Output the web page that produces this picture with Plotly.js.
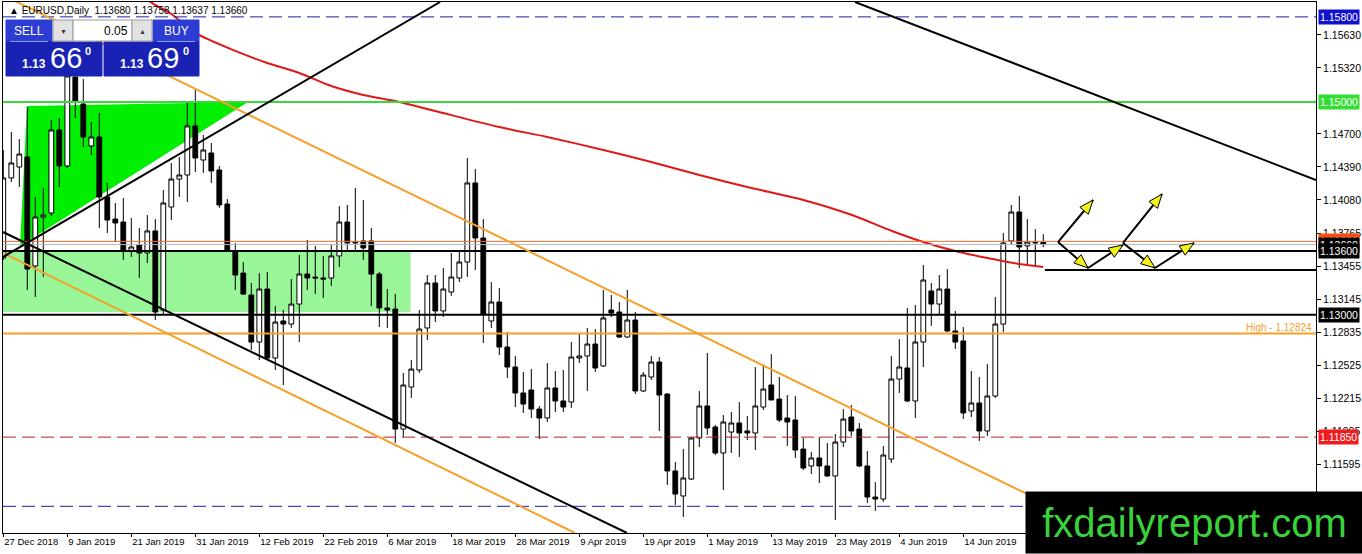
<!DOCTYPE html>
<html><head><meta charset="utf-8">
<script src="https://cdn.plot.ly/plotly-3.0.1.min.js"></script>
<style>html,body{margin:0;padding:0;background:#fff;overflow:hidden}#chart{width:1362px;height:554px}</style>
</head><body><div id="chart"></div>
<script>
// ---------------- DATA ----------------
const dates = [
"2018-12-27","2018-12-28","2018-12-31",
"2019-01-02","2019-01-03","2019-01-04","2019-01-07","2019-01-08","2019-01-09","2019-01-10","2019-01-11","2019-01-14","2019-01-15","2019-01-16","2019-01-17","2019-01-18","2019-01-21","2019-01-22","2019-01-23","2019-01-24","2019-01-25","2019-01-28","2019-01-29","2019-01-30","2019-01-31",
"2019-02-01","2019-02-04","2019-02-05","2019-02-06","2019-02-07","2019-02-08","2019-02-11","2019-02-12","2019-02-13","2019-02-14","2019-02-15","2019-02-18","2019-02-19","2019-02-20","2019-02-21","2019-02-22","2019-02-25","2019-02-26","2019-02-27","2019-02-28",
"2019-03-01","2019-03-04","2019-03-05","2019-03-06","2019-03-07","2019-03-08","2019-03-11","2019-03-12","2019-03-13","2019-03-14","2019-03-15","2019-03-18","2019-03-19","2019-03-20","2019-03-21","2019-03-22","2019-03-25","2019-03-26","2019-03-27","2019-03-28","2019-03-29",
"2019-04-01","2019-04-02","2019-04-03","2019-04-04","2019-04-05","2019-04-08","2019-04-09","2019-04-10","2019-04-11","2019-04-12","2019-04-15","2019-04-16","2019-04-17","2019-04-18","2019-04-19","2019-04-22","2019-04-23","2019-04-24","2019-04-25","2019-04-26","2019-04-29","2019-04-30",
"2019-05-01","2019-05-02","2019-05-03","2019-05-06","2019-05-07","2019-05-08","2019-05-09","2019-05-10","2019-05-13","2019-05-14","2019-05-15","2019-05-16","2019-05-17","2019-05-20","2019-05-21","2019-05-22","2019-05-23","2019-05-24","2019-05-27","2019-05-28","2019-05-29","2019-05-30","2019-05-31",
"2019-06-03","2019-06-04","2019-06-05","2019-06-06","2019-06-07","2019-06-10","2019-06-11","2019-06-12","2019-06-13","2019-06-14","2019-06-17","2019-06-18","2019-06-19","2019-06-20","2019-06-21","2019-06-24","2019-06-25","2019-06-26","2019-06-27","2019-06-28"
];
const openP = [
1.13534,1.14286,1.14389,1.14483,1.13459,1.13919,1.13957,1.14737,1.14399,1.15235,
1.14981,1.14587,1.14671,1.14107,1.13900,1.13872,1.13600,1.13656,1.13581,1.13788,
1.13045,1.14013,1.14276,1.14314,1.14775,1.14455,1.14521,1.14361,1.14041,1.13590,
1.13392,1.13186,1.12744,1.13242,1.12594,1.12942,1.12913,1.13101,1.13383,1.13355,
1.13346,1.13346,1.13553,1.13872,1.13675,1.13694,1.13694,1.13383,1.13064,1.13054,
1.11926,1.12321,1.12481,1.12876,1.13299,1.13036,1.13214,1.13346,1.13496,1.14239,
1.13722,1.12942,1.13120,1.12697,1.12509,1.12265,1.12293,1.12114,1.12030,1.12312,
1.12190,1.12180,1.12594,1.12613,1.12725,1.12519,1.13045,1.13026,1.12791,1.12951,
1.12284,1.12415,1.12556,1.12255,1.11532,1.11297,1.11456,1.11842,1.12143,1.11945,
1.11701,1.11898,1.11983,1.11908,1.11889,1.12133,1.12340,1.12208,1.12030,1.12011,
1.11738,1.11579,1.11654,1.11579,1.11485,1.11804,1.12039,1.11926,1.11579,1.11287,
1.11268,1.11644,1.12396,1.12500,1.12190,1.12744,1.13224,1.13101,1.13242,1.12848,
1.12754,1.12096,1.12171,1.11908,1.12237,1.12913,1.13694,1.13966,1.13647,1.13675,
1.13680];
const highP = [
1.14549,1.14718,1.14652,1.14953,1.14107,1.14192,1.14831,1.14850,1.15376,1.15339,
1.15216,1.14812,1.14897,1.14239,1.14051,1.14098,1.13910,1.13816,1.13938,1.13900,
1.14173,1.14427,1.14483,1.14991,1.15113,1.14690,1.14615,1.14399,1.14088,1.13675,
1.13496,1.13299,1.13392,1.13402,1.13083,1.13045,1.13336,1.13562,1.13703,1.13647,
1.13553,1.13656,1.14022,1.14032,1.14192,1.14079,1.13816,1.13402,1.13242,1.13195,
1.12453,1.12575,1.13045,1.13374,1.13374,1.13440,1.13581,1.13590,1.14474,1.14370,
1.13900,1.13308,1.13252,1.12838,1.12613,1.12462,1.12490,1.12143,1.12547,1.12472,
1.12481,1.12744,1.12829,1.12876,1.12866,1.13233,1.13186,1.13120,1.13233,1.13026,
1.12462,1.12613,1.12603,1.12265,1.11616,1.11738,1.11851,1.12284,1.12641,1.11964,
1.12058,1.12086,1.12180,1.12049,1.12509,1.12528,1.12631,1.12415,1.12246,1.12237,
1.11842,1.11710,1.11851,1.11795,1.11879,1.12114,1.12152,1.11983,1.11720,1.11428,
1.11767,1.12613,1.12772,1.13064,1.13092,1.13468,1.13299,1.13374,1.13430,1.13036,
1.12885,1.12472,1.12415,1.12537,1.13167,1.13769,1.14032,1.14117,1.13900,1.13806,
1.13758];
const lowP = [
1.13515,1.14248,1.14201,1.13233,1.13167,1.13355,1.13929,1.14201,1.14380,1.14850,
1.14577,1.14502,1.13816,1.13769,1.13684,1.13515,1.13543,1.13346,1.13487,1.12951,
1.12998,1.13891,1.14107,1.14060,1.14342,1.14333,1.14239,1.14004,1.13590,1.13233,
1.13186,1.12669,1.12575,1.12575,1.12481,1.12340,1.12876,1.12744,1.13233,1.13195,
1.13158,1.13271,1.13449,1.13609,1.13590,1.13515,1.13083,1.12885,1.12876,1.11795,
1.11851,1.12218,1.12453,1.12763,1.12932,1.12979,1.13177,1.13308,1.13355,1.13421,
1.12735,1.12876,1.12622,1.12406,1.12133,1.12077,1.12030,1.11832,1.11992,1.12086,
1.12086,1.12124,1.12547,1.12284,1.12462,1.12509,1.12979,1.12782,1.12782,1.12255,
1.12274,1.12387,1.11908,1.11400,1.11212,1.11099,1.11447,1.11757,1.11870,1.11682,
1.11353,1.11701,1.11663,1.11823,1.11729,1.12105,1.12199,1.11992,1.11767,1.11654,
1.11541,1.11503,1.11419,1.11475,1.11071,1.11757,1.11861,1.11569,1.11231,1.11156,
1.11240,1.11607,1.12265,1.12180,1.12030,1.12509,1.12895,1.12998,1.12838,1.12678,
1.12020,1.12039,1.11814,1.11861,1.12218,1.12838,1.13656,1.13440,1.13468,1.13468,
1.13637];
const closeP = [
1.14286,1.14427,1.14511,1.13430,1.13919,1.13938,1.14737,1.14399,1.15245,1.15000,
1.14671,1.14671,1.14107,1.13891,1.13863,1.13600,1.13637,1.13581,1.13788,1.13026,
1.14051,1.14276,1.14314,1.14775,1.14474,1.14549,1.14352,1.14032,1.13609,1.13374,
1.13195,1.12744,1.13242,1.12594,1.12932,1.12913,1.13101,1.13383,1.13346,1.13346,
1.13336,1.13553,1.13872,1.13675,1.13684,1.13628,1.13383,1.13064,1.13045,1.11926,
1.12340,1.12490,1.12866,1.13299,1.13036,1.13242,1.13355,1.13496,1.14239,1.13722,
1.13007,1.13120,1.12697,1.12509,1.12265,1.12161,1.12114,1.12030,1.12312,1.12190,
1.12133,1.12603,1.12613,1.12725,1.12500,1.12970,1.13017,1.12791,1.12951,1.12284,
1.12434,1.12556,1.12246,1.11532,1.11315,1.11466,1.11842,1.12143,1.11936,1.11701,
1.11992,1.11983,1.11889,1.11889,1.12143,1.12302,1.12199,1.12011,1.11992,1.11729,
1.11560,1.11654,1.11579,1.11485,1.11804,1.12020,1.11908,1.11579,1.11287,1.11268,
1.11682,1.12396,1.12509,1.12190,1.12744,1.13327,1.13101,1.13242,1.12848,1.12744,
1.12077,1.12171,1.11908,1.12237,1.12913,1.13675,1.13966,1.13637,1.13684,1.13680,
1.13660];

// moving average (bar index, price)
const maBar   = [16,18,21,24,29,33,37,41,45,49,54,62,68,75,81,87,93,100,106,111,115,119,123,127,130];
const maPrice = [1.16100,1.15959,1.15827,1.15649,1.15480,1.15367,1.15273,1.15150,1.15066,1.15009,1.14915,1.14765,1.14671,1.14549,1.14436,1.14314,1.14201,1.14079,1.13940,1.13790,1.13684,1.13599,1.13533,1.13477,1.13449];

// x-axis tick labels
const tickDates  = ["2018-12-27","2019-01-09","2019-01-21","2019-01-31","2019-02-12","2019-02-22","2019-03-06","2019-03-18","2019-03-28","2019-04-09","2019-04-19","2019-05-01","2019-05-13","2019-05-23","2019-06-04","2019-06-14"];
const tickLabels = ["27 Dec 2018","9 Jan 2019","21 Jan 2019","31 Jan 2019","12 Feb 2019","22 Feb 2019","6 Mar 2019","18 Mar 2019","28 Mar 2019","9 Apr 2019","19 Apr 2019","1 May 2019","13 May 2019","23 May 2019","4 Jun 2019","14 Jun 2019"];
// price scale ticks
const priceTicks = [1.15630,1.15320,1.14700,1.14390,1.14080,1.13765,1.13455,1.13145,1.12835,1.12525,1.12215,1.11905,1.11595,1.11285];

// horizontal levels
const levelBlueTop = 1.15800, levelBlueBottom = 1.11200, levelGreen = 1.15000;
const levelBlack1 = 1.13600, levelBlack2 = 1.13000, levelHigh = 1.12824, levelRed = 1.11850;
const askPrice = 1.13690, bidPrice = 1.13660, levelShort = 1.13421, levelShortStart = 130.2;

// trend lines: [bar0, price0, bar1, price1]
const trendBlackUp   = [-0.04, 1.13543, 54.6, 1.15940];
const trendBlackDown = [-0.04, 1.13778, 77.96, 1.10949];
const trendOrangeUp  = [0, 1.16003, 137.96, 1.10949];
const trendOrangeLow = [-0.04, 1.13581, 71.46, 1.10949];
const trendBlackTop  = [106.46, 1.15940, 164.08, 1.14267];

// zones
const triBars = [2.96, 30.59, 2.09], triPrices = [1.14963, 1.15000, 1.13647];
const zoneBars = [-1, 50.9], zonePrices = [1.13600, 1.13026];

// projected path arrows
const arrBar0 = [131.84,131.84,135.59,139.96,139.96,143.96];
const arrP0   = [1.13684,1.13684,1.13440,1.13675,1.13675,1.13440];
const arrBar1 = [136.22,135.59,139.96,144.84,143.96,148.84];
const arrP1   = [1.14079,1.13440,1.13656,1.14135,1.13440,1.13675];

// right-hand price label boxes
const tagPrices = [1.15800,1.15000,askPrice,bidPrice,1.13600,1.13000,1.11850];
const tagTexts  = ["1.15800","1.15000","1.13690","1.13660","1.13600","1.13000","1.11850"];

// ---------------- DRAW ----------------
const XR=[-0.0375,164.0875], YR=[1.10949,1.15940];
const PW=1313, PH=531, ML=3, MT=2;
const kx=PW/(XR[1]-XR[0]), ky=PH/(YR[1]-YR[0]);
const PX=x=>(x-ML)/PW, PY=y=>(MT+PH-y)/PH;
const barIdx = dates.map((d,i)=>i);
const FONT="Liberation Sans, Arial, sans-serif";

const traces=[{
  type:'candlestick', x:barIdx, open:openP, high:highP, low:lowP, close:closeP,
  increasing:{line:{color:'#000',width:1},fillcolor:'#ffffff'},
  decreasing:{line:{color:'#000',width:1},fillcolor:'#000000'},
  whiskerwidth:0, hoverinfo:'none', showlegend:false
},{
  type:'scatter', mode:'lines', x:maBar, y:maPrice, line:{color:'#e01818',width:2,shape:'spline',smoothing:0.8},
  hoverinfo:'none', showlegend:false
}];

const shapes=[];
shapes.push({type:'rect',xref:'x',yref:'y',x0:zoneBars[0],x1:zoneBars[1],y0:zonePrices[0],y1:zonePrices[1],
  fillcolor:'#98f598',line:{width:0},layer:'below'});
shapes.push({type:'path',xref:'x',yref:'y',layer:'below',fillcolor:'#00ee00',line:{width:0},
  path:`M ${triBars[0]} ${triPrices[0]} L ${triBars[1]} ${triPrices[1]} L ${triBars[2]} ${triPrices[2]} Z`});
function hl(p,color,w,dash){shapes.push({type:'line',xref:'paper',yref:'y',x0:0,x1:1,y0:p,y1:p,layer:'above',line:{color:color,width:w,dash:dash||'solid'}});}
hl(askPrice,'#ff6a2a',1); hl(bidPrice,'#b8b8b8',1);
hl(levelBlueTop,'#1c1ca8',1,'13px,6px'); hl(levelBlueBottom,'#1c1ca8',1,'13px,6px');
hl(levelRed,'#b52020',1,'13px,6px');
hl(levelGreen,'#3ad83a',2); hl(levelHigh,'#f5a02a',2);
hl(levelBlack1,'#000',2); hl(levelBlack2,'#000',2);
shapes.push({type:'line',xref:'x',yref:'y',x0:levelShortStart,x1:XR[1],y0:levelShort,y1:levelShort,layer:'above',line:{color:'#000',width:2}});
function tl(t,color){shapes.push({type:'line',xref:'x',yref:'y',x0:t[0],y0:t[1],x1:t[2],y1:t[3],layer:'above',line:{color:color,width:2}});}
tl(trendOrangeUp,'#f5a02a'); tl(trendOrangeLow,'#f5a02a');
tl(trendBlackUp,'#000'); tl(trendBlackDown,'#000'); tl(trendBlackTop,'#000');
function head(x0,y0,x1,y1){
  const dx=(x1-x0)*kx, dy=(y1-y0)*ky, L=Math.hypot(dx,dy), ux=dx/L, uy=dy/L;
  const bx=-14*ux, by=-14*uy, nx=-uy*5.5, ny=ux*5.5;
  const a=[x1+(bx+nx)/kx, y1+(by+ny)/ky], b=[x1+(bx-nx)/kx, y1+(by-ny)/ky];
  return `M ${x1} ${y1} L ${a[0]} ${a[1]} L ${b[0]} ${b[1]} Z`;
}
for(let i=0;i<arrBar0.length;i++){
  shapes.push({type:'line',xref:'x',yref:'y',x0:arrBar0[i],y0:arrP0[i],x1:arrBar1[i],y1:arrP1[i],layer:'above',line:{color:'#000',width:2}});
  shapes.push({type:'path',xref:'x',yref:'y',layer:'above',fillcolor:'#f2f21a',line:{color:'#000',width:1},path:head(arrBar0[i],arrP0[i],arrBar1[i],arrP1[i])});
}
function prect(x0,y0,x1,y1,fill,lc){shapes.push({type:'rect',xref:'paper',yref:'paper',layer:'above',x0:PX(x0),x1:PX(x1),y0:PY(y0),y1:PY(y1),fillcolor:fill,line:{color:lc||fill,width:1}});}
prect(6,20,52,42,'#2d3dd4'); prect(6,42,102,76,'#1a22b4');
prect(153,20,199,42,'#2d3dd4'); prect(104,42,199,76,'#1a22b4');
prect(53,20,73,41,'#e2e2e2','#9a9a9a'); prect(73,20,132,41,'#ffffff','#9a9a9a'); prect(132,20,152,41,'#e2e2e2','#9a9a9a');
shapes.push({type:'line',xref:'paper',yref:'paper',layer:'above',x0:PX(10),x1:PX(48),y0:PY(41.5),y1:PY(41.5),line:{color:'#8f9ae8',width:1}});
shapes.push({type:'line',xref:'paper',yref:'paper',layer:'above',x0:PX(157),x1:PX(195),y0:PY(41.5),y1:PY(41.5),line:{color:'#8f9ae8',width:1}});

const ann=[];
function pa(text,x,y,size,color,xa,bold){ann.push({xref:'paper',yref:'paper',x:PX(x),y:PY(y),xanchor:xa||'center',yanchor:'middle',
  text:bold?'<b>'+text+'</b>':text,showarrow:false,font:{family:FONT,size:size,color:color}});}
pa('▲ EURUSD,Daily  1.13680 1.13758 1.13637 1.13660',7,10.5,10,'#000','left');
pa('SELL',29,31,12,'#fff'); pa('BUY',176,31,12,'#fff');
pa('▼',63,31,7,'#333'); pa('▲',142,31,7,'#333');
pa('0.05',130,31,12,'#000','right');
pa('1.13',20,64,12,'#fff','left',true); pa('66',48,58,29,'#fff','left'); pa('0',83,51,11,'#fff','left',true);
pa('1.13',118,64,12,'#fff','left',true); pa('69',145,58,29,'#fff','left'); pa('0',181,51,11,'#fff','left',true);
const tagBg=['#1010d0','#33dd33','#ff4a10','#000000','#000000','#000000','#ee1c1c'];
tagPrices.forEach((p,i)=>ann.push({xref:'paper',yref:'y',x:PX(1318),y:p,xanchor:'left',yanchor:'middle',text:tagTexts[i],showarrow:false,
  bgcolor:tagBg[i],borderpad:1,font:{family:FONT,size:10.5,color:'#fff'}}));
ann.push({xref:'paper',yref:'y',x:PX(1313),y:levelHigh,xanchor:'right',yanchor:'bottom',text:'High - 1.12824',showarrow:false,
  font:{family:FONT,size:10,color:'#f5a02a'},borderpad:0});
ann.push({xref:'paper',yref:'paper',x:PX(1025),y:PY(554),xanchor:'left',yanchor:'bottom',width:337,height:61,bgcolor:'#000',borderpad:0,
  text:'fxdailyreport.com',showarrow:false,align:'center',valign:'middle',font:{family:FONT,size:40,color:'#3ad23a'}});

const layout={
  width:1362,height:554,margin:{l:ML,r:1362-ML-PW,t:MT,b:554-MT-PH,pad:0},
  paper_bgcolor:'#fff',plot_bgcolor:'#fff',showlegend:false,hovermode:false,dragmode:false,
  xaxis:{type:'linear',range:XR,tickvals:tickDates.map(d=>dates.indexOf(d)),ticktext:tickLabels,ticks:'outside',ticklen:3,tickcolor:'#000',
    ticklabelposition:'outside right',tickfont:{family:FONT,size:9.5,color:'#000'},showgrid:false,zeroline:false,
    showline:true,linecolor:'#000',linewidth:1,mirror:true,rangeslider:{visible:false},fixedrange:true},
  yaxis:{side:'right',range:YR,tickvals:priceTicks,ticktext:priceTicks.map(v=>v.toFixed(5)),ticks:'outside',ticklen:4,tickcolor:'#000',
    tickfont:{family:FONT,size:10.5,color:'#000'},showgrid:false,zeroline:false,showline:true,linecolor:'#000',linewidth:1,mirror:true,fixedrange:true},
  boxgap:0.15,
  shapes:shapes, annotations:ann
};
Plotly.newPlot('chart',traces,layout,{staticPlot:true,displayModeBar:false});
</script></body></html>
